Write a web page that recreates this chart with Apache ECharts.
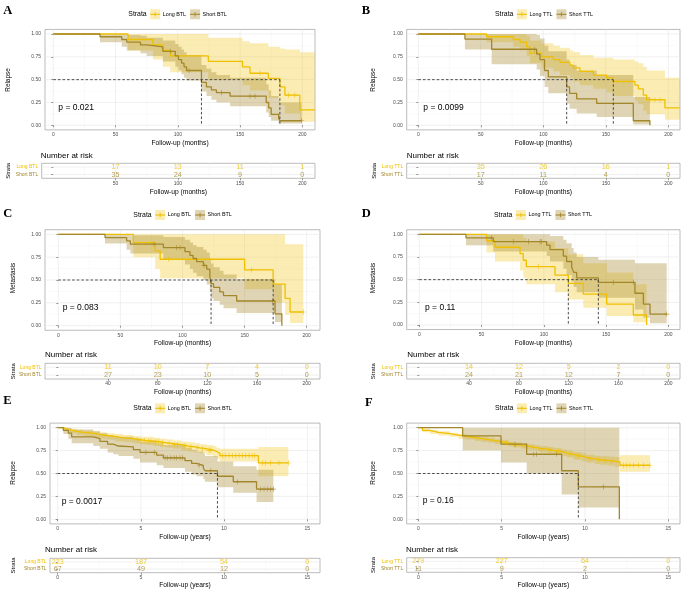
<!DOCTYPE html>
<html><head><meta charset="utf-8">
<script src="https://cdn.jsdelivr.net/npm/echarts@6/dist/echarts.min.js"></script>
<style>html,body{margin:0;padding:0;background:#fff}#c{width:685px;height:593px}</style>
</head><body><div id="c"></div>
<script>
// ---------------- DATA ----------------
const monthTicks = [0, 50, 100, 150, 200];
const monthMinor = [25, 75, 125, 175];
const yearTicks = [0, 5, 10, 15];
const yearMinor = [2.5, 7.5, 12.5];
const survTicks = [0, 0.25, 0.5, 0.75, 1];
const survMinor = [0.125, 0.375, 0.625, 0.875];

// Panel A  (Relapse, BTL, months)
const aLongT  = [0, 60, 80, 88, 94, 124.5, 152, 158, 172.7, 182, 186, 198];
const aLongS  = [1, 0.94, 0.88, 0.82, 0.76, 0.70, 0.64, 0.57, 0.515, 0.42, 0.33, 0.17];
const aLongLo = [1, 0.82, 0.72, 0.64, 0.58, 0.50, 0.44, 0.38, 0.30, 0.22, 0.13, 0.04];
const aLongHi = [1, 1, 1, 1, 1, 0.96, 0.92, 0.90, 0.86, 0.84, 0.83, 0.80];
const aLongEnd = 210;
const aLongCens = [166, 189, 194];
const aShortT  = [0, 37.5, 55, 59, 70, 75, 88, 98, 100.5, 103, 105, 107, 119, 123, 127, 131, 142, 171, 173, 175, 181, 182];
const aShortS  = [1, 0.97, 0.94, 0.91, 0.88, 0.86, 0.81, 0.76, 0.72, 0.68, 0.64, 0.60, 0.47, 0.42, 0.387, 0.357, 0.32, 0.25, 0.19, 0.12, 0.08, 0.05];
const aShortLo = [1, 0.91, 0.86, 0.82, 0.79, 0.76, 0.70, 0.64, 0.60, 0.56, 0.52, 0.49, 0.37, 0.32, 0.28, 0.25, 0.21, 0.14, 0.09, 0.05, 0.02, 0.02];
const aShortHi = [1, 1, 1, 0.99, 0.98, 0.96, 0.93, 0.89, 0.86, 0.83, 0.80, 0.77, 0.66, 0.62, 0.58, 0.55, 0.52, 0.45, 0.38, 0.32, 0.28, 0.25];
const aShortEnd = 199.5;
const aShortCens = [94, 109, 135, 158, 162, 199.5];
const aMedians = [119, 182];
const aRiskX = [50, 100, 150, 200];
const aRiskLong = [17, 13, 11, 1];
const aRiskShort = [35, 24, 9, 0];

// Panel B  (Relapse, TTL, months)
const bLongT  = [0, 54.7, 76, 81.3, 86.7, 89.3, 98.7, 108, 113.3, 121.3, 124, 129.3, 140, 150.7, 156, 173.3, 176, 180, 182.7, 197.3];
const bLongS  = [1, 0.97, 0.94, 0.91, 0.86, 0.79, 0.75, 0.72, 0.69, 0.66, 0.63, 0.59, 0.55, 0.52, 0.48, 0.44, 0.40, 0.33, 0.28, 0.19];
const bLongLo = [1, 0.91, 0.86, 0.82, 0.76, 0.68, 0.63, 0.59, 0.55, 0.52, 0.48, 0.44, 0.40, 0.36, 0.32, 0.27, 0.23, 0.16, 0.12, 0.06];
const bLongHi = [1, 1, 1, 1, 0.98, 0.93, 0.90, 0.87, 0.85, 0.82, 0.80, 0.77, 0.74, 0.74, 0.72, 0.70, 0.68, 0.64, 0.60, 0.52];
const bLongEnd = 209.3;
const bLongCens = [164, 169, 185.3, 189.3, 193.3];
const bShortT  = [0, 37.3, 58.7, 94.7, 97.3, 101, 104, 118.7, 121, 126.7, 142.7, 172, 185.3];
const bShortS  = [1, 0.944, 0.833, 0.78, 0.72, 0.60, 0.53, 0.42, 0.35, 0.29, 0.24, 0.05, 0];
const bShortLo = [1, 0.83, 0.67, 0.61, 0.54, 0.42, 0.35, 0.24, 0.18, 0.13, 0.09, 0.01, 0];
const bShortHi = [1, 1, 1, 0.99, 0.95, 0.87, 0.81, 0.72, 0.66, 0.60, 0.55, 0.31, 0.31];
const bShortEnd = null;
const bShortCens = [93];
const bMedians = [118.7, 156];
const bRiskX = [50, 100, 150, 200];
const bRiskLong = [35, 26, 16, 1];
const bRiskShort = [17, 11, 4, 0];

// Panel C  (Metastasis, BTL, months)
const cLongT  = [0, 60.4, 78, 82, 150, 173, 182.6, 186.6];
const cLongS  = [1, 0.909, 0.818, 0.727, 0.61, 0.455, 0.30, 0.15];
const cLongLo = [1, 0.75, 0.62, 0.52, 0.40, 0.25, 0.12, 0.03];
const cLongHi = [1, 1, 1, 1, 1, 1, 0.89, 0.89];
const cLongEnd = 197.3;
const cLongCens = [88.6, 155.7, 197.3];
const cShortT  = [0, 37.6, 55, 58, 84.6, 102, 106, 108.5, 111.4, 116.8, 119.5, 122, 123, 125, 130, 133, 143.6, 174.5, 180];
const cShortS  = [1, 0.964, 0.929, 0.893, 0.855, 0.81, 0.77, 0.735, 0.70, 0.66, 0.62, 0.54, 0.46, 0.42, 0.37, 0.33, 0.27, 0.13, 0];
const cShortLo = [1, 0.90, 0.83, 0.79, 0.73, 0.67, 0.62, 0.58, 0.54, 0.50, 0.45, 0.37, 0.30, 0.27, 0.23, 0.19, 0.14, 0.04, 0];
const cShortHi = [1, 1, 1, 0.99, 0.97, 0.94, 0.91, 0.88, 0.86, 0.83, 0.80, 0.74, 0.68, 0.64, 0.60, 0.56, 0.51, 0.45, 0.45];
const cShortEnd = null;
const cShortCens = [77, 95.3, 98, 117.3, 172.6];
const cMedians = [123, 173];
const cRiskX = [40, 80, 120, 160, 200];
const cRiskLong = [11, 10, 7, 4, 0];
const cRiskShort = [27, 23, 10, 5, 0];

// Panel D  (Metastasis, TTL, months)
const dLongT  = [0, 54, 60.8, 80.9, 83.5, 86, 109, 119.7, 131.7, 150.5, 171.9, 182.6];
const dLongS  = [1, 0.929, 0.857, 0.786, 0.714, 0.643, 0.55, 0.46, 0.34, 0.23, 0.11, 0];
const dLongLo = [1, 0.80, 0.70, 0.60, 0.52, 0.45, 0.36, 0.28, 0.19, 0.10, 0.03, 0];
const dLongHi = [1, 1, 1, 1, 0.96, 0.92, 0.85, 0.78, 0.68, 0.58, 0.45, 0.45];
const dLongEnd = null;
const dLongCens = [95.6];
const dShortT  = [0, 37.5, 59.4, 102.3, 105, 115.7, 118.3, 122.4, 124, 126.4, 143.8, 173.2, 180, 185.3];
const dShortS  = [1, 0.96, 0.92, 0.88, 0.83, 0.76, 0.70, 0.64, 0.58, 0.52, 0.47, 0.35, 0.23, 0.12];
const dShortLo = [1, 0.88, 0.81, 0.76, 0.70, 0.62, 0.55, 0.48, 0.42, 0.36, 0.30, 0.17, 0.08, 0.02];
const dShortHi = [1, 1, 1, 1, 0.98, 0.94, 0.90, 0.85, 0.80, 0.75, 0.72, 0.68, 0.68, 0.68];
const dShortEnd = 198.7;
const dShortCens = [58, 75.5, 87.6, 97, 98, 155.8, 171.9, 198.7];
const dMedians = [119.7, 143.8];
const dRiskX = [40, 80, 120, 160, 200];
const dRiskLong = [14, 12, 5, 2, 0];
const dRiskShort = [24, 21, 12, 7, 0];

// Panel E  (Relapse, BTL, years)
const eLongT  = [0, 0.34, 0.64, 1.14, 1.54, 2.14, 2.54, 2.94, 3.44, 3.95, 4.55, 4.95, 5.35, 5.75, 6.15, 6.55, 6.95, 7.45, 7.85, 8.25, 8.55, 8.95, 9.35, 9.55, 9.75, 12.06];
const eLongS  = [1, 0.98, 0.96, 0.95, 0.94, 0.925, 0.915, 0.905, 0.89, 0.88, 0.87, 0.86, 0.855, 0.845, 0.835, 0.825, 0.815, 0.80, 0.79, 0.78, 0.77, 0.755, 0.74, 0.72, 0.695, 0.615];
const eLongLo = [1, 0.96, 0.94, 0.92, 0.91, 0.89, 0.88, 0.87, 0.85, 0.84, 0.83, 0.82, 0.81, 0.80, 0.79, 0.78, 0.77, 0.75, 0.74, 0.73, 0.72, 0.70, 0.68, 0.66, 0.63, 0.47];
const eLongHi = [1, 1, 0.99, 0.98, 0.97, 0.96, 0.95, 0.94, 0.93, 0.92, 0.91, 0.90, 0.90, 0.89, 0.88, 0.87, 0.86, 0.85, 0.84, 0.83, 0.82, 0.81, 0.80, 0.78, 0.77, 0.79];
const eLongEnd = 13.86;
const eLongCens = [4.8, 5.0, 5.2, 5.45, 5.6, 5.9, 6.05, 6.3, 6.7, 7.0, 7.2, 7.6, 7.7, 8.0, 8.4, 8.7, 9.1, 9.2, 9.9, 10.1, 10.3, 10.5, 10.7, 10.9, 11.1, 11.3, 11.5, 11.7, 11.85, 12.3, 12.5, 12.8, 13.3, 13.86];
const eShortT  = [0, 0.34, 0.64, 0.84, 2.14, 2.54, 3.0, 3.34, 3.65, 4.55, 4.95, 5.95, 6.35, 7.65, 8.05, 8.35, 8.75, 8.85, 9.6, 10.55, 11.95];
const eShortS  = [1, 0.97, 0.94, 0.90, 0.88, 0.85, 0.82, 0.80, 0.79, 0.76, 0.73, 0.70, 0.67, 0.64, 0.61, 0.59, 0.56, 0.53, 0.47, 0.41, 0.33];
const eShortLo = [1, 0.93, 0.88, 0.83, 0.80, 0.77, 0.73, 0.71, 0.69, 0.66, 0.62, 0.59, 0.56, 0.52, 0.49, 0.47, 0.44, 0.41, 0.35, 0.29, 0.19];
const eShortHi = [1, 1, 1, 0.98, 0.96, 0.94, 0.92, 0.91, 0.90, 0.88, 0.85, 0.83, 0.81, 0.78, 0.76, 0.74, 0.72, 0.69, 0.63, 0.58, 0.54];
const eShortEnd = 12.96;
const eShortCens = [5.3, 5.8, 6.45, 6.6, 6.8, 7.0, 7.15, 7.35, 7.5, 8.5, 9.2, 10.8, 12.2, 12.4, 12.6, 12.8, 12.96];
const eMedians = [9.6];
const eRiskX = [0, 5, 10, 15];
const eRiskLong = [223, 187, 54, 0];
const eRiskShort = [67, 49, 12, 0];

// Panel F  (Relapse, TTL, years)
const fLongT  = [0, 0.25, 0.7, 1.2, 1.9, 2.4, 2.9, 3.4, 3.8, 4.2, 4.6, 5.0, 5.4, 5.7, 6.2, 6.6, 7.0, 7.3, 7.8, 8.1, 8.6, 8.9, 9.3, 9.8, 10.1, 10.6, 10.9, 11.4, 11.8, 12.1];
const fLongS  = [1, 0.97, 0.95, 0.935, 0.92, 0.905, 0.893, 0.88, 0.87, 0.86, 0.848, 0.835, 0.82, 0.81, 0.80, 0.785, 0.775, 0.765, 0.753, 0.74, 0.725, 0.71, 0.69, 0.675, 0.66, 0.65, 0.642, 0.635, 0.625, 0.59];
const fLongLo = [1, 0.95, 0.93, 0.915, 0.90, 0.88, 0.87, 0.855, 0.845, 0.835, 0.82, 0.81, 0.795, 0.785, 0.77, 0.755, 0.745, 0.73, 0.72, 0.705, 0.69, 0.675, 0.65, 0.635, 0.62, 0.605, 0.595, 0.585, 0.57, 0.52];
const fLongHi = [1, 0.99, 0.975, 0.96, 0.945, 0.93, 0.92, 0.91, 0.90, 0.89, 0.875, 0.865, 0.85, 0.84, 0.83, 0.82, 0.81, 0.80, 0.79, 0.78, 0.765, 0.75, 0.735, 0.72, 0.705, 0.695, 0.69, 0.685, 0.68, 0.70];
const fLongEnd = 13.9;
const fLongCens = [5.3, 5.8, 6.3, 6.9, 7.4, 7.9, 8.4, 9.1, 9.6, 10.3, 10.8, 11.2, 11.6, 12.3, 12.5, 12.7, 12.9, 13.2, 13.5, 13.9];
const fShortT  = [0, 2.66, 4.96, 6.5, 8.6, 9.6, 12.06];
const fShortS  = [1, 0.91, 0.82, 0.71, 0.53, 0.355, 0];
const fShortLo = [1, 0.75, 0.62, 0.50, 0.27, 0.13, 0];
const fShortHi = [1, 1, 1, 1, 1, 1, 1];
const fShortEnd = null;
const fShortCens = [5.8, 6.9, 7.1, 8.3, 11.1];
const fMedians = [9.6];
const fRiskX = [0, 5, 10, 15];
const fRiskLong = [279, 227, 64, 0];
const fRiskShort = [11, 9, 2, 0];

// ---------------- STYLE / LAYOUT ----------------
const LONG_C = '#EFC000', SHORT_C = '#A3872B';
const LONG_BAND = 'rgba(239,192,0,0.30)', SHORT_BAND = 'rgba(163,135,43,0.35)';
const FONT = '"Liberation Sans", Arial, sans-serif';
const SERIF = '"Liberation Serif", "Times New Roman", serif';
const BORDER = '#9e9e9e';
const GRID_MAJ = '#e6e6e6', GRID_MIN = '#f3f3f3';

const panels = [
  { letter:'A', labels:['Long BTL','Short BTL'], yTitle:'Relapse', xTitle:'Follow-up (months)', pText:'p = 0.021',
    long:{t:aLongT,s:aLongS,lo:aLongLo,hi:aLongHi,end:aLongEnd,cens:aLongCens},
    short:{t:aShortT,s:aShortS,lo:aShortLo,hi:aShortHi,end:aShortEnd,cens:aShortCens},
    medians:aMedians, ticks:monthTicks, minor:monthMinor, riskX:aRiskX, riskLong:aRiskLong, riskShort:aRiskShort, riskMinor:[25,75,125,175],
    L:{letter:[3.3,11.2], leg:[128.3,14.3], l:45, r:315, y1:34, y0:125.3, x0:53.3, xs:1.245, yT:[8.3,80], xTy:143, p:[58.3,107.7],
       rl:41.7, rr:315, rt:163.3, rb:178.3, nar:[40.7,155.5], sx:8.3, rxTy:192 } },
  { letter:'B', labels:['Long TTL','Short TTL'], yTitle:'Relapse', xTitle:'Follow-up (months)', pText:'p = 0.0099',
    long:{t:bLongT,s:bLongS,lo:bLongLo,hi:bLongHi,end:bLongEnd,cens:bLongCens},
    short:{t:bShortT,s:bShortS,lo:bShortLo,hi:bShortHi,end:bShortEnd,cens:bShortCens},
    medians:bMedians, ticks:monthTicks, minor:monthMinor, riskX:bRiskX, riskLong:bRiskLong, riskShort:bRiskShort, riskMinor:[25,75,125,175],
    L:{letter:[361.7,11.2], leg:[495,14.3], l:406.7, r:680, y1:34, y0:125.3, x0:418.3, xs:1.25, yT:[373.3,80], xTy:143, p:[423.3,107.7],
       rl:406.7, rr:680, rt:163.3, rb:178.3, nar:[406.7,155.5], sx:374, rxTy:192 } },
  { letter:'C', labels:['Long BTL','Short BTL'], yTitle:'Metastasis', xTitle:'Follow-up (months)', pText:'p = 0.083',
    long:{t:cLongT,s:cLongS,lo:cLongLo,hi:cLongHi,end:cLongEnd,cens:cLongCens},
    short:{t:cShortT,s:cShortS,lo:cShortLo,hi:cShortHi,end:cShortEnd,cens:cShortCens},
    medians:cMedians, ticks:monthTicks, minor:monthMinor, riskX:cRiskX, riskLong:cRiskLong, riskShort:cRiskShort, riskMinor:[20,60,100,140,180],
    L:{letter:[3.3,214.2], leg:[133.3,215], l:45, r:320, y1:234.3, y0:325.7, x0:58.3, xs:1.242, yT:[13.3,278], xTy:342.7, p:[62.7,307.7],
       rl:45, rr:320, rt:363.3, rb:379, nar:[45,355], sx:13.3, rxTy:391.7 } },
  { letter:'D', labels:['Long TTL','Short TTL'], yTitle:'Metastasis', xTitle:'Follow-up (months)', pText:'p = 0.11',
    long:{t:dLongT,s:dLongS,lo:dLongLo,hi:dLongHi,end:dLongEnd,cens:dLongCens},
    short:{t:dShortT,s:dShortS,lo:dShortLo,hi:dShortHi,end:dShortEnd,cens:dShortCens},
    medians:dMedians, ticks:monthTicks, minor:monthMinor, riskX:dRiskX, riskLong:dRiskLong, riskShort:dRiskShort, riskMinor:[20,60,100,140,180],
    L:{letter:[361.7,214.2], leg:[494,215], l:406.7, r:680, y1:234.3, y0:325, x0:419.3, xs:1.245, yT:[373.3,278], xTy:342.7, p:[425,307.3],
       rl:406.7, rr:680, rt:363.3, rb:379, nar:[407.3,355], sx:373.3, rxTy:391.7 } },
  { letter:'E', labels:['Long BTL','Short BTL'], yTitle:'Relapse', xTitle:'Follow-up (years)', pText:'p = 0.0017',
    long:{t:eLongT,s:eLongS,lo:eLongLo,hi:eLongHi,end:eLongEnd,cens:eLongCens},
    short:{t:eShortT,s:eShortS,lo:eShortLo,hi:eShortHi,end:eShortEnd,cens:eShortCens},
    medians:eMedians, ticks:yearTicks, minor:yearMinor, riskX:eRiskX, riskLong:eRiskLong, riskShort:eRiskShort, riskMinor:yearMinor,
    L:{letter:[3.3,401], leg:[133.3,408.3], l:50, r:320, y1:427.7, y0:519.3, x0:57.7, xs:16.64, yT:[13.3,473], xTy:536.7, p:[61.7,501.7],
       rl:50, rr:320, rt:558.3, rb:572.7, nar:[45,550], sx:13.3, rxTy:585 } },
  { letter:'F', labels:['Long TTL','Short TTL'], yTitle:'Relapse', xTitle:'Follow-up (years)', pText:'p = 0.16',
    long:{t:fLongT,s:fLongS,lo:fLongLo,hi:fLongHi,end:fLongEnd,cens:fLongCens},
    short:{t:fShortT,s:fShortS,lo:fShortLo,hi:fShortHi,end:fShortEnd,cens:fShortCens},
    medians:fMedians, ticks:yearTicks, minor:yearMinor, riskX:fRiskX, riskLong:fRiskLong, riskShort:fRiskShort, riskMinor:yearMinor,
    L:{letter:[365,402.3], leg:[495,408.3], l:406.7, r:680, y1:427.7, y0:519.3, x0:418.3, xs:16.67, yT:[373.3,473], xTy:536.7, p:[422.7,501],
       rl:406.7, rr:680, rt:557.7, rb:572.3, nar:[406,550], sx:373.3, rxTy:585 } }
];

// ---------------- BUILD ----------------
const option = { animation:false, grid:[], xAxis:[], yAxis:[], series:[], graphic:{ elements:[] } };
const G = option.graphic.elements;
const mctx = document.createElement('canvas').getContext('2d');
function tw(str, size){ mctx.font = size + 'px ' + FONT; return mctx.measureText(str).width; }
function text(x, y, str, size, o){
  o = o || {};
  G.push({ type:'text', x:x, y:y, rotation:o.rot||0, silent:true, z:100,
    style:{ text:str, font:(o.weight||'normal') + ' ' + size + 'px ' + (o.family||FONT), fill:o.color||'#000',
            textAlign:o.align||'left', textVerticalAlign:'middle' } });
}
function legendKey(x, yc, color, band){
  G.push({ type:'rect', silent:true, z:100, shape:{x:x, y:yc-5, width:10, height:10}, style:{fill:band} });
  G.push({ type:'line', silent:true, z:101, shape:{x1:x, y1:yc, x2:x+10, y2:yc}, style:{stroke:color, lineWidth:1.1} });
  G.push({ type:'line', silent:true, z:101, shape:{x1:x+5, y1:yc-2.2, x2:x+5, y2:yc+2.2}, style:{stroke:color, lineWidth:0.9} });
}
function stepAt(t, s, x){ let v = s[0]; for (let i = 0; i < t.length; i++) if (t[i] <= x) v = s[i]; return v; }
const CENS = 'path://M-0.13,-1H0.13V-0.13H1V0.13H0.13V1H-0.13V0.13H-1V-0.13H-0.13Z';

function gridLines(gi, vals, dir, color, width){
  return { type:'custom', xAxisIndex:gi, yAxisIndex:gi, silent:true, z:0,
    data: vals.map(v => dir === 'v' ? [v, 0] : [0, v]),
    renderItem: function(params, api){
      const cs = params.coordSys;
      if (dir === 'v') {
        const x = api.coord([api.value(0), 0])[0];
        return { type:'line', shape:{x1:x, y1:cs.y, x2:x, y2:cs.y+cs.height}, style:{stroke:color, lineWidth:width} };
      }
      const y = api.coord([0, api.value(1)])[1];
      return { type:'line', shape:{x1:cs.x, y1:y, x2:cs.x+cs.width, y2:y}, style:{stroke:color, lineWidth:width} };
    } };
}
function bandSeries(gi, c, fill){
  const edges = c.end == null ? c.t.slice() : c.t.concat([c.end]);
  return { type:'custom', xAxisIndex:gi, yAxisIndex:gi, silent:true, z:1, data:[[c.t[0], c.hi[0]]],
    renderItem: function(params, api){
      const up = [], dn = [];
      for (let i = 0; i < edges.length - 1; i++) {
        up.push(api.coord([edges[i], c.hi[i]]), api.coord([edges[i+1], c.hi[i]]));
        dn.push(api.coord([edges[i], c.lo[i]]), api.coord([edges[i+1], c.lo[i]]));
      }
      return { type:'polygon', shape:{ points: up.concat(dn.reverse()) }, style:{ fill:fill } };
    } };
}
function lineSeries(gi, c, color){
  const d = c.t.map((x, i) => [x, c.s[i]]);
  if (c.end != null) d.push([c.end, c.s[c.s.length-1]]);
  return { type:'line', xAxisIndex:gi, yAxisIndex:gi, data:d, step:'end', symbol:'none', silent:true, z:3,
    lineStyle:{ color:color, width:1.3 } };
}
function censSeries(gi, c, color){
  return { type:'scatter', xAxisIndex:gi, yAxisIndex:gi, silent:true, z:4, symbol:CENS, symbolSize:5.2,
    data: c.cens.map(x => [x, stepAt(c.t, c.s, x)]), itemStyle:{ color:color } };
}
function dashSeries(gi, pts){
  return { type:'line', xAxisIndex:gi, yAxisIndex:gi, data:pts, symbol:'none', silent:true, z:5,
    lineStyle:{ color:'#3a3a3a', width:0.9, type:[2.6, 2] } };
}
function xAxisCfg(gi, min, max, ticks){
  return { gridIndex:gi, type:'value', min:min, max:max,
    axisLine:{show:false}, splitLine:{show:false},
    axisTick:{ show:true, customValues:ticks, length:2, lineStyle:{color:'#555', width:0.6} },
    axisLabel:{ customValues:ticks, fontSize:5, color:'#4d4d4d', margin:2.5, fontFamily:FONT, hideOverlap:false } };
}

panels.forEach(function(p){
  const L = p.L;
  text(L.letter[0], L.letter[1], p.letter, 12.5, {weight:'bold', family:SERIF});
  let x = L.leg[0];
  text(x, L.leg[1], 'Strata', 6.9);
  x += tw('Strata', 6.9) + 3.5;
  legendKey(x, L.leg[1], LONG_C, LONG_BAND);
  x += 12.5;
  text(x, L.leg[1], p.labels[0], 5.4);
  x += tw(p.labels[0], 5.4) + 4;
  legendKey(x, L.leg[1], SHORT_C, SHORT_BAND);
  x += 12.5;
  text(x, L.leg[1], p.labels[1], 5.4);
  text(L.yT[0], L.yT[1], p.yTitle, 6.4, {rot:Math.PI/2, align:'center'});
  text((L.l + L.r)/2, L.xTy, p.xTitle, 6.7, {align:'center'});
  text(L.p[0], L.p[1], p.pText, 8.5);
  text(L.nar[0], L.nar[1], 'Number at risk', 8);
  text(L.sx, (L.rt + L.rb)/2, 'Strata', 6, {rot:Math.PI/2, align:'center'});
  text((L.rl + L.rr)/2, L.rxTy, p.xTitle, 6.7, {align:'center'});

  const gi = option.grid.length;
  const yTop = L.y1 - 0.05*(L.y0 - L.y1), yBot = L.y0 + 0.05*(L.y0 - L.y1);
  option.grid.push({ left:L.l, top:yTop, width:L.r - L.l, height:yBot - yTop, show:true, borderColor:BORDER, borderWidth:0.7 });
  option.xAxis.push(xAxisCfg(gi, (L.l - L.x0)/L.xs, (L.r - L.x0)/L.xs, p.ticks));
  option.yAxis.push({ gridIndex:gi, type:'value', min:-0.05, max:1.05,
    axisLine:{show:false}, splitLine:{show:false},
    axisTick:{ show:true, customValues:survTicks, length:2, lineStyle:{color:'#555', width:0.6} },
    axisLabel:{ customValues:survTicks, fontSize:5, color:'#4d4d4d', margin:4, fontFamily:FONT, hideOverlap:false,
      formatter: v => Number(v).toFixed(2) } });
  option.series.push(gridLines(gi, p.minor, 'v', GRID_MIN, 0.4));
  option.series.push(gridLines(gi, survMinor, 'h', GRID_MIN, 0.4));
  option.series.push(gridLines(gi, p.ticks, 'v', GRID_MAJ, 0.6));
  option.series.push(gridLines(gi, survTicks, 'h', GRID_MAJ, 0.6));
  option.series.push(bandSeries(gi, p.long, LONG_BAND));
  option.series.push(bandSeries(gi, p.short, SHORT_BAND));
  option.series.push(lineSeries(gi, p.long, LONG_C));
  option.series.push(lineSeries(gi, p.short, SHORT_C));
  option.series.push(censSeries(gi, p.long, LONG_C));
  option.series.push(censSeries(gi, p.short, SHORT_C));
  const mMax = Math.max.apply(null, p.medians);
  option.series.push(dashSeries(gi, [[0, 0.5], [mMax, 0.5]]));
  p.medians.forEach(m => option.series.push(dashSeries(gi, [[m, 0.5], [m, 0]])));

  const ri = option.grid.length;
  option.grid.push({ left:L.rl, top:L.rt, width:L.rr - L.rl, height:L.rb - L.rt, show:true, borderColor:BORDER, borderWidth:0.7 });
  option.xAxis.push(xAxisCfg(ri, (L.rl - L.x0)/L.xs, (L.rr - L.x0)/L.xs, p.riskX));
  option.yAxis.push({ gridIndex:ri, type:'category', data:[p.labels[1], p.labels[0]], boundaryGap:true,
    axisLine:{show:false}, splitLine:{show:false},
    axisTick:{ show:true, alignWithLabel:true, length:2, lineStyle:{color:'#555', width:0.6} },
    axisLabel:{ fontSize:5, margin:3.5, fontFamily:FONT,
      formatter: v => (v === p.labels[0] ? '{a|' : '{b|') + v + '}',
      rich:{ a:{color:LONG_C, fontSize:5, fontFamily:FONT}, b:{color:SHORT_C, fontSize:5, fontFamily:FONT} } } });
  option.series.push(gridLines(ri, p.riskMinor, 'v', GRID_MIN, 0.4));
  option.series.push(gridLines(ri, p.riskX, 'v', GRID_MAJ, 0.6));
  option.series.push({ type:'custom', xAxisIndex:ri, yAxisIndex:ri, silent:true, z:0, data:[[0,0],[0,1]],
    renderItem: function(params, api){
      const cs = params.coordSys; const y = api.coord([0, api.value(1)])[1];
      return { type:'line', shape:{x1:cs.x, y1:y, x2:cs.x+cs.width, y2:y}, style:{stroke:GRID_MAJ, lineWidth:0.6} };
    } });
  [[p.riskLong, p.labels[0], LONG_C], [p.riskShort, p.labels[1], SHORT_C]].forEach(function(r){
    option.series.push({ type:'scatter', xAxisIndex:ri, yAxisIndex:ri, silent:true, z:5, symbolSize:1,
      itemStyle:{ color:'rgba(0,0,0,0)' },
      data: p.riskX.map((xv, i) => [xv, r[1], r[0][i]]),
      label:{ show:true, position:'inside', formatter: q => String(q.data[2]), fontSize:7.2, color:r[2], fontFamily:FONT } });
  });
});

const chart = echarts.init(document.getElementById('c'), null, { renderer:'canvas', width:685, height:593 });
chart.setOption(option);
</script>
</body></html>
